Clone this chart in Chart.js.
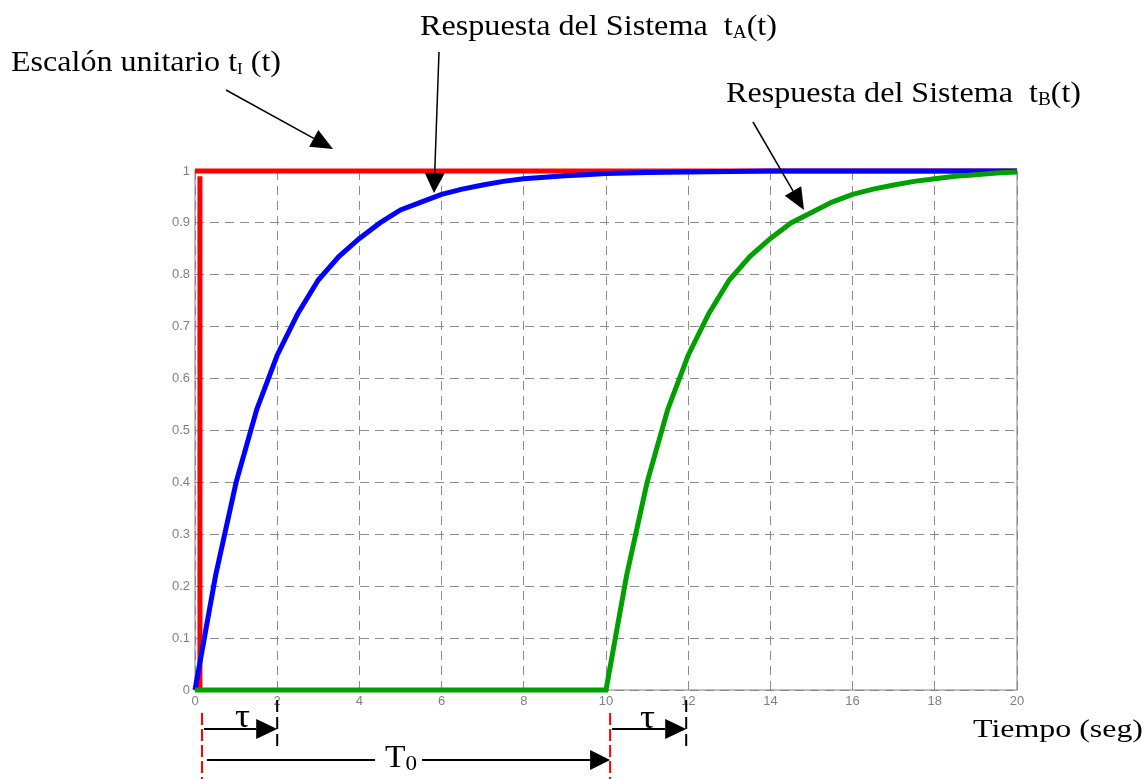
<!DOCTYPE html>
<html>
<head>
<meta charset="utf-8">
<script src="https://cdn.jsdelivr.net/npm/chart.js@4"></script>
<style>
    body { margin: 0; background: #fff; }
    canvas { display: block; }
</style>
</head>
<body>
<canvas id="stepChart" width="1146" height="779"></canvas>
<script>
// --- DATA ---
const xTickValues = [0, 2, 4, 6, 8, 10, 12, 14, 16, 18, 20];
const xTickLabels = ['0', '2', '4', '6', '8', '10', '12', '14', '16', '18', '20'];
const yTickValues = [0, 0.1, 0.2, 0.3, 0.4, 0.5, 0.6, 0.7, 0.8, 0.9, 1];
const yTickLabels = ['0', '0.1', '0.2', '0.3', '0.4', '0.5', '0.6', '0.7', '0.8', '0.9', '1'];

// escalón unitario (red): the rise and the top
const stepRiseT = [0.12, 0.12];
const stepRiseY = [0, 0.99];
const stepTopT = [0, 20];
const stepTopY = [1, 1];

// respuesta tA(t) (blue)
const respAT = [0, 0.5, 1, 1.5, 2, 2.5, 3, 3.5, 4, 4.5, 5, 5.5, 6, 6.5, 7, 7.5, 8, 8.5, 9, 9.5, 10,
                11, 12, 13, 14, 15, 16, 17, 18, 19, 20];
const respAY = [0, 0.22, 0.40, 0.54, 0.645, 0.725, 0.79, 0.835, 0.87, 0.90, 0.925, 0.94, 0.955, 0.965,
                0.973, 0.98, 0.985, 0.988, 0.991, 0.993, 0.995,
                0.997, 0.998, 0.999, 1, 1, 1, 1, 1, 1, 1];

// respuesta tB(t) (green), delayed by T0
const respBT = [0, 10, 10.5, 11, 11.5, 12, 12.5, 13, 13.5, 14, 14.5, 15, 15.5, 16, 16.5, 17, 17.5,
                18, 18.5, 19, 19.5, 20];
const respBY = [0, 0, 0.22, 0.40, 0.54, 0.645, 0.725, 0.79, 0.835, 0.87, 0.90, 0.92, 0.94, 0.955,
                0.965, 0.973, 0.98, 0.985, 0.99, 0.993, 0.996, 0.998];

// marker positions under the axis (tiempo)
const tauEnds = [2, 12];
const delayStarts = [0.17, 10.1];

const toPoints = (xs, ys) => xs.map((x, i) => ({ x: x, y: ys[i] }));

const serif = '"Liberation Serif", "Times New Roman", serif';

// text with optional subscripts, squeezed/stretched to the width seen in the picture
function drawLabel(ctx, parts, left, baseline, width) {
    let total = 0;
    parts.forEach(p => {
        ctx.font = p[1] + 'px ' + serif;
        total += ctx.measureText(p[0]).width;
    });
    const sx = width ? width / total : 1;
    ctx.save();
    ctx.translate(left, baseline);
    ctx.scale(sx, 1);
    ctx.fillStyle = '#000';
    ctx.textAlign = 'left';
    ctx.textBaseline = 'alphabetic';
    let x = 0;
    parts.forEach(p => {
        ctx.font = p[1] + 'px ' + serif;
        ctx.fillText(p[0], x, p[2]);
        x += ctx.measureText(p[0]).width;
    });
    ctx.restore();
}

function arrow(ctx, x1, y1, x2, y2, headLen, headHalf, lw) {
    const ang = Math.atan2(y2 - y1, x2 - x1);
    const c = Math.cos(ang), s = Math.sin(ang);
    const bx = x2 - headLen * c, by = y2 - headLen * s;
    ctx.save();
    ctx.strokeStyle = '#000';
    ctx.fillStyle = '#000';
    ctx.lineWidth = lw;
    ctx.setLineDash([]);
    ctx.beginPath();
    ctx.moveTo(x1, y1);
    ctx.lineTo(bx, by);
    ctx.stroke();
    ctx.beginPath();
    ctx.moveTo(x2, y2);
    ctx.lineTo(bx - headHalf * s, by + headHalf * c);
    ctx.lineTo(bx + headHalf * s, by - headHalf * c);
    ctx.closePath();
    ctx.fill();
    ctx.restore();
}

function vDash(ctx, x, y1, y2, color, dash) {
    ctx.save();
    ctx.strokeStyle = color;
    ctx.lineWidth = 2;
    ctx.setLineDash(dash);
    ctx.beginPath();
    ctx.moveTo(x, y1);
    ctx.lineTo(x, y2);
    ctx.stroke();
    ctx.restore();
}

const framePlugin = {
    id: 'frame',
    beforeDatasetsDraw(chart) {
        const ca = chart.chartArea;
        const ctx = chart.ctx;
        ctx.save();
        ctx.strokeStyle = '#808080';
        ctx.lineWidth = 1;
        ctx.strokeRect(ca.left, ca.top, ca.right - ca.left, ca.bottom - ca.top);
        ctx.restore();
    }
};

const notesPlugin = {
    id: 'notes',
    afterDraw(chart) {
        const ctx = chart.ctx;
        const xs = chart.scales.x;

        // labels
        drawLabel(ctx, [['Escalón unitario t', 30, 0], ['I', 16, 3], [' (t)', 30, 0]], 11, 71, 270);
        drawLabel(ctx, [['Respuesta del Sistema  t', 30, 0], ['A', 18, 3], ['(t)', 30, 0]], 420, 35, 357);
        drawLabel(ctx, [['Respuesta del Sistema  t', 30, 0], ['B', 18, 3], ['(t)', 30, 0]], 726, 102, 355);
        drawLabel(ctx, [['Tiempo (seg)', 26, 0]], 973, 737, 170);

        // pointer arrows
        arrow(ctx, 226, 90, 333, 149, 22, 9.5, 1.5);
        arrow(ctx, 439, 52, 434, 193, 20, 10, 1.5);
        arrow(ctx, 753, 122, 804, 210, 22, 9.5, 1.5);

        // tau and T0 markers below the axis
        const d0 = xs.getPixelForValue(delayStarts[0]);
        const d1 = xs.getPixelForValue(delayStarts[1]);
        const t0 = xs.getPixelForValue(tauEnds[0]);
        const t1 = xs.getPixelForValue(tauEnds[1]) - 2;

        vDash(ctx, d0, 713, 779, '#ff0000', [12, 4]);
        vDash(ctx, d1, 713, 779, '#ff0000', [12, 4]);
        vDash(ctx, t0, 700, 746, '#000', [12, 5]);
        vDash(ctx, t1, 700, 746, '#000', [12, 5]);

        arrow(ctx, d0 + 2, 729, t0, 729, 21, 10, 2);
        arrow(ctx, d1 + 2, 729, t1, 729, 21, 10, 2);
        drawLabel(ctx, [['τ', 34, 0]], 235, 727, 15);
        drawLabel(ctx, [['τ', 34, 0]], 640, 728, 15);

        ctx.save();
        ctx.strokeStyle = '#000';
        ctx.lineWidth = 2;
        ctx.beginPath();
        ctx.moveTo(d0 + 5, 760);
        ctx.lineTo(375, 760);
        ctx.stroke();
        ctx.restore();
        arrow(ctx, 422, 760, d1, 760, 20, 10, 2);
        drawLabel(ctx, [['T', 32, 0], ['0', 22, 3]], 385, 767, 32);
    }
};

function initChart() {
    const ctx = document.getElementById('stepChart').getContext('2d');
    const lineBase = { pointRadius: 0, tension: 0, fill: false, borderWidth: 5, clip: false };
    const gridOpts = { color: '#8c8c8c', lineWidth: 1, drawTicks: false, borderDash: [9, 6] };
    const tickFont = { family: '"Liberation Sans", Arial, sans-serif', size: 13 };

    new Chart(ctx, {
        type: 'line',
        data: {
            datasets: [
                Object.assign({ label: 'tB(t)', data: toPoints(respBT, respBY), borderColor: '#00a000' }, lineBase),
                Object.assign({ label: 'tA(t)', data: toPoints(respAT, respAY), borderColor: '#0000ff' }, lineBase),
                Object.assign({ label: 'tI top', data: toPoints(stepTopT, stepTopY), borderColor: '#ff0000' }, lineBase),
                Object.assign({ label: 'tI rise', data: toPoints(stepRiseT, stepRiseY), borderColor: '#ff0000' }, lineBase)
            ]
        },
        options: {
            responsive: false,
            animation: false,
            devicePixelRatio: 1,
            layout: { padding: { left: 0, top: 171, right: 129, bottom: 59 } },
            plugins: { legend: { display: false }, tooltip: { enabled: false } },
            scales: {
                x: {
                    type: 'linear', min: 0, max: 20,
                    afterBuildTicks: axis => { axis.ticks = xTickValues.map(v => ({ value: v })); },
                    afterFit: axis => { axis.height = 30; },
                    ticks: {
                        callback: (v, i) => xTickLabels[i],
                        color: '#808080', font: tickFont, padding: 4,
                        maxRotation: 0, autoSkip: false
                    },
                    grid: gridOpts,
                    border: { display: false, dash: [9, 6] }
                },
                y: {
                    type: 'linear', min: 0, max: 1,
                    afterBuildTicks: axis => { axis.ticks = yTickValues.map(v => ({ value: v })); },
                    afterFit: axis => { axis.width = 195; },
                    ticks: {
                        callback: (v, i) => yTickLabels[i],
                        color: '#808080', font: tickFont, padding: 5, autoSkip: false
                    },
                    grid: gridOpts,
                    border: { display: false, dash: [9, 6] }
                }
            }
        },
        plugins: [framePlugin, notesPlugin]
    });
}

initChart();
</script>
</body>
</html>
